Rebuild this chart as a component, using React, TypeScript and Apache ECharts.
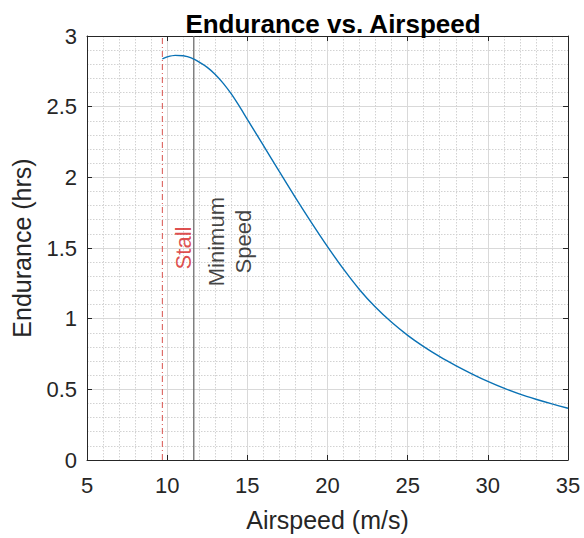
import React, { useEffect, useRef } from "react";
import * as echarts from "echarts";

// ---- data ----
const airspeed = [9.7, 10, 10.5, 11, 11.5, 12, 12.5, 13, 13.5, 14, 14.5, 15, 16, 17, 18, 19, 20, 21, 22, 23, 24, 25, 26, 27, 28, 29, 30, 31, 32, 33, 34, 35];
const endurance = [2.838, 2.852, 2.863, 2.86, 2.845, 2.815, 2.778, 2.728, 2.665, 2.59, 2.503, 2.41, 2.226, 2.04, 1.857, 1.68, 1.51, 1.35, 1.205, 1.08, 0.974, 0.882, 0.802, 0.731, 0.668, 0.61, 0.556, 0.508, 0.466, 0.43, 0.397, 0.366];
const stallSpeed = 9.7;
const minimumSpeed = 11.66;
const xRange = [5, 35];
const xStep = 5;
const yRange = [0, 3];
const yStep = 0.5;
const titleText = "Endurance vs. Airspeed";
const xName = "Airspeed (m/s)";
const yName = "Endurance (hrs)";
const stallText = "Stall";
const minText = "Minimum\nSpeed";

const FONT = "'Liberation Sans', Arial, Helvetica, sans-serif";
const AXIS_COLOR = "#262626";

export default function App() {
  const ref = useRef<HTMLDivElement>(null);
  useEffect(() => {
    document.body.style.margin = "0";
    if (!ref.current) return;
    const chart = echarts.init(ref.current, undefined, { renderer: "svg" });
    const curve = airspeed.map((x, i) => [x, endurance[i]]);
    const tickStyle = { show: true, inside: true, length: 5, lineStyle: { color: AXIS_COLOR, width: 1 } };
    const axisLine = { show: true, onZero: false, lineStyle: { color: AXIS_COLOR, width: 1 } };
    const baseX = { type: "value" as const, min: xRange[0], max: xRange[1], interval: xStep };
    const baseY = { type: "value" as const, min: yRange[0], max: yRange[1], interval: yStep };
    const majorGrid = { show: true, lineStyle: { color: "#d9d9d9", width: 1 } };
    const minorGrid = { show: true, lineStyle: { color: "#d2d2d2", width: 1, type: [1.5, 1.5] } };
    chart.setOption({
      animation: false,
      backgroundColor: "#ffffff",
      textStyle: { fontFamily: FONT },
      title: {
        text: titleText,
        left: 328,
        textAlign: "center",
        top: 6,
        textStyle: { fontFamily: FONT, fontWeight: "bold", fontSize: 26, color: "#000" },
      },
      grid: { left: 87, right: 16, top: 36, bottom: 78, containLabel: false },
      xAxis: [
        {
          ...baseX,
          position: "bottom",
          axisLine,
          axisTick: tickStyle,
          axisLabel: { color: AXIS_COLOR, fontSize: 22, fontFamily: FONT, margin: 14 },
          splitLine: majorGrid,
          minorTick: { show: false, splitNumber: 5 },
          minorSplitLine: minorGrid,
          name: xName,
          nameLocation: "middle",
          nameGap: 47,
          nameTextStyle: { color: AXIS_COLOR, fontSize: 25, fontFamily: FONT },
        },
        {
          ...baseX,
          position: "top",
          axisLine,
          axisTick: tickStyle,
          axisLabel: { show: false },
          splitLine: { show: false },
        },
      ],
      yAxis: [
        {
          ...baseY,
          position: "left",
          axisLine,
          axisTick: tickStyle,
          axisLabel: { color: AXIS_COLOR, fontSize: 22, fontFamily: FONT, margin: 10 },
          splitLine: majorGrid,
          minorTick: { show: false, splitNumber: 5 },
          minorSplitLine: minorGrid,
          name: yName,
          nameLocation: "middle",
          nameGap: 53,
          nameTextStyle: { color: AXIS_COLOR, fontSize: 25, fontFamily: FONT },
        },
        {
          ...baseY,
          position: "right",
          axisLine,
          axisTick: tickStyle,
          axisLabel: { show: false },
          splitLine: { show: false },
        },
      ],
      series: [
        {
          type: "line",
          data: [[stallSpeed, yRange[0]], [stallSpeed, yRange[1]]],
          symbol: "none",
          lineStyle: { color: "#d9534f", width: 1, type: [6, 3, 1, 3] },
          silent: true,
        },
        {
          type: "line",
          data: [[minimumSpeed, yRange[0]], [minimumSpeed, yRange[1]]],
          symbol: "none",
          lineStyle: { color: "#6e6e6e", width: 1.3 },
          silent: true,
        },
        {
          type: "line",
          data: curve,
          symbol: "none",
          smooth: 0.3,
          lineStyle: { color: "#0a72b5", width: 1.4 },
        },
        {
          type: "scatter",
          symbolSize: 0,
          data: [[11.0, 1.5]],
          label: {
            show: true,
            position: "inside",
            rotate: 90,
            formatter: stallText,
            color: "#d61f1f",
            fontSize: 22,
            fontFamily: FONT,
          },
          silent: true,
        },
        {
          type: "scatter",
          symbolSize: 0,
          data: [[13.93, 1.545]],
          label: {
            show: true,
            position: "inside",
            rotate: 90,
            formatter: minText,
            color: "#111",
            fontSize: 22,
            lineHeight: 27,
            align: "center",
            fontFamily: FONT,
          },
          silent: true,
        },
      ],
    });
    return () => chart.dispose();
  }, []);
  return <div ref={ref} style={{ width: 584, height: 538 }} />;
}
